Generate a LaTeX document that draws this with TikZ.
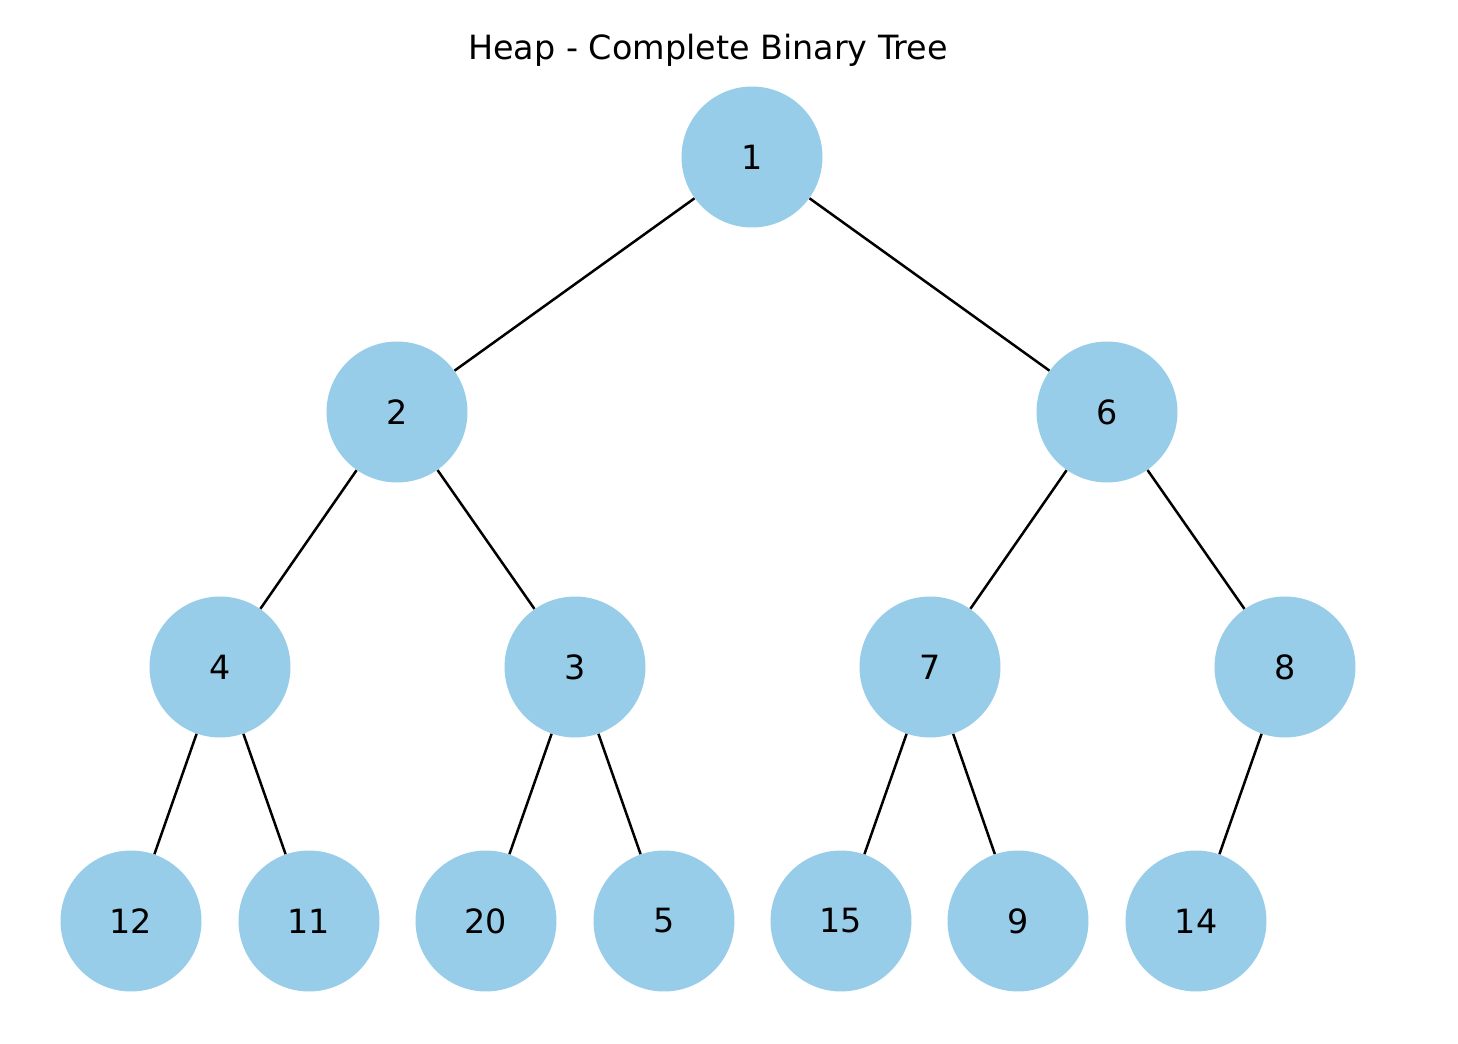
\documentclass[tikz,border=0pt]{standalone}
\usepackage{fontspec}
\setmainfont{DejaVu Sans}
\definecolor{nodeblue}{RGB}{151,205,232}
\begin{document}
\begin{tikzpicture}[x=0.02cm,y=-0.02cm,
  hn/.style={circle,fill=nodeblue,minimum size=2.82cm,inner sep=0pt,font=\fontsize{19pt}{22pt}\selectfont},
  edge/.style={line width=0.05cm,black}]
\useasboundingbox (0,0) rectangle (1458,1044);
\node[font=\fontsize{19pt}{22pt}\selectfont] (title) at (708,50) {Heap - Complete Binary Tree};
\node[hn] (n1) at (752,157) {1};
\node[hn] (n2) at (397,412) {2};
\node[hn] (n6) at (1107,412) {6};
\node[hn] (n4) at (220,667) {4};
\node[hn] (n3) at (575,667) {3};
\node[hn] (n7) at (930,667) {7};
\node[hn] (n8) at (1285,667) {8};
\node[hn] (n12) at (131,921) {12};
\node[hn] (n11) at (309,921) {11};
\node[hn] (n20) at (486,921) {20};
\node[hn] (n5) at (664,921) {5};
\node[hn] (n15) at (841,921) {15};
\node[hn] (n9) at (1018,921) {9};
\node[hn] (n14) at (1196,921) {14};
\draw[edge] (n1) -- (n2);
\draw[edge] (n1) -- (n6);
\draw[edge] (n2) -- (n4);
\draw[edge] (n2) -- (n3);
\draw[edge] (n6) -- (n7);
\draw[edge] (n6) -- (n8);
\draw[edge] (n4) -- (n12);
\draw[edge] (n4) -- (n11);
\draw[edge] (n3) -- (n20);
\draw[edge] (n3) -- (n5);
\draw[edge] (n7) -- (n15);
\draw[edge] (n7) -- (n9);
\draw[edge] (n8) -- (n14);
\end{tikzpicture}
\end{document}
